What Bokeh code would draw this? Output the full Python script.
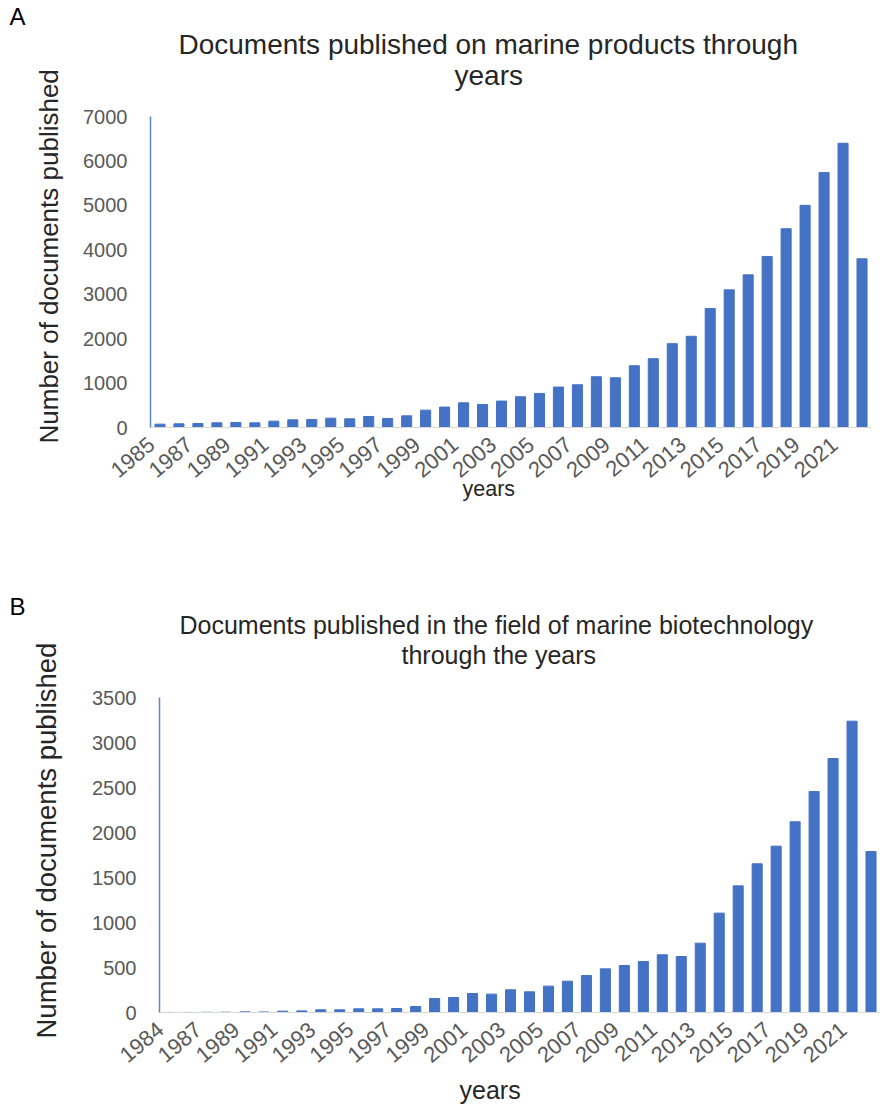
import math
from bokeh.plotting import figure
from bokeh.models import Range1d, FixedTicker, Title, ColumnDataSource
from bokeh.layouts import column
from bokeh.embed import file_html
from bokeh.resources import INLINE

# ---------------- data ----------------
years_a = ["1985", "1986", "1987", "1988", "1989", "1990", "1991", "1992", "1993", "1994",
           "1995", "1996", "1997", "1998", "1999", "2000", "2001", "2002", "2003", "2004",
           "2005", "2006", "2007", "2008", "2009", "2010", "2011", "2012", "2013", "2014",
           "2015", "2016", "2017", "2018", "2019", "2020", "2021", "2022"]
docs_a = [75, 83, 90, 105, 113, 105, 143, 173, 180, 210,
          195, 248, 203, 263, 391, 459, 556, 519, 595, 692,
          767, 910, 962, 1143, 1120, 1391, 1549, 1887, 2053, 2677,
          3098, 3436, 3850, 4474, 5000, 5737, 6398, 3797]

years_b = ["1984", "1986", "1987", "1988", "1989", "1990", "1991", "1992", "1993", "1994",
           "1995", "1996", "1997", "1998", "1999", "2000", "2001", "2002", "2003", "2004",
           "2005", "2006", "2007", "2008", "2009", "2010", "2011", "2012", "2013", "2014",
           "2015", "2016", "2017", "2018", "2019", "2020", "2021", "2022"]
docs_b = [1, 1, 2, 3, 7, 6, 15, 18, 30, 30,
          41, 41, 44, 67, 156, 167, 211, 204, 252, 230,
          293, 348, 411, 485, 522, 567, 641, 622, 770, 1104,
          1407, 1652, 1848, 2119, 2456, 2822, 3237, 1789]

yticks_a = [0, 1000, 2000, 3000, 4000, 5000, 6000, 7000]
yticks_b = [0, 500, 1000, 1500, 2000, 2500, 3000, 3500]

title_a = ["Documents published on marine products through", "years"]
title_b = ["Documents published in the field of marine biotechnology", "through the years"]
ylabel = "Number of documents published"
xlabel = "years"

FONT = "Liberation Sans"
BAR = "#4472C4"


def make_chart(years, docs, yticks, titles, letter, g):
    n = len(years)
    xs = list(range(n))
    ymax = yticks[-1]
    src = ColumnDataSource(dict(x=xs, top=docs, year=years))
    p = figure(width=g["w"], height=g["h"],
               min_border_left=g["bl"], min_border_right=g["br"],
               min_border_top=g["bt"], min_border_bottom=g["bb"],
               x_range=Range1d(-0.5, n - 0.5), y_range=Range1d(0, ymax),
               output_backend="svg", toolbar_location=None, tools="")
    p.margin = (0, 0, 0, g["ml"])
    p.outline_line_color = None
    p.xgrid.visible = False
    p.ygrid.visible = False
    p.background_fill_color = "white"
    p.border_fill_color = "white"

    p.vbar(x="x", top="top", width=0.53, source=src, fill_color=BAR, line_color=BAR)

    ya = p.yaxis[0]
    ya.ticker = FixedTicker(ticks=yticks)
    ya.major_tick_line_color = None
    ya.minor_tick_line_color = None
    ya.axis_line_color = "#5B8AD0"
    ya.axis_line_width = 1.5
    ya.major_label_text_font = FONT
    ya.major_label_text_font_size = g["tick_fs"]
    ya.major_label_text_color = "#595959"
    ya.major_label_standoff = 17

    xa = p.xaxis[0]
    shown = xs[::2]
    shift = 0.45  # Excel-style: rotated label ends just left of its bar
    xa.ticker = FixedTicker(ticks=[i - shift for i in shown])
    xa.major_label_overrides = {i - shift: years[i] for i in shown}
    xa.major_label_orientation = 0.7
    xa.major_tick_line_color = None
    xa.minor_tick_line_color = None
    xa.axis_line_color = "#D9D9D9"
    xa.axis_line_width = 1
    xa.major_label_text_font = FONT
    xa.major_label_text_font_size = g["xtick_fs"]
    xa.major_label_text_color = "#595959"
    xa.major_label_standoff = 8

    def ttl(text, loc, fs, offset=0, standoff=0, color="#262626"):
        t = Title(text=text, align="left", offset=offset, standoff=standoff,
                  text_font=FONT, text_font_size=fs, text_font_style="normal",
                  text_color=color)
        p.add_layout(t, loc)

    # above: closest to the frame first (a blank spacer lifts the title block)
    ttl(" ", "above", "1px", offset=0, standoff=g["sp"])
    ttl(titles[1], "above", g["title_fs"], offset=g["t2_off"], standoff=0)
    ttl(titles[0], "above", g["title_fs"], offset=g["t1_off"], standoff=g["t1_so"])
    ttl(letter, "above", "24px", offset=g["letter_off"], standoff=g["letter_so"],
        color="#000000")
    # left / below axis titles
    ttl(ylabel, "left", g["yl_fs"], offset=g["yl_off"], standoff=g["yl_so"])
    ttl(xlabel, "below", g["xl_fs"], offset=g["xl_off"], standoff=g["xl_so"])
    return p


geom_a = dict(w=880, h=556, ml=-9, bl=158, br=0, bt=116, bb=129,
              tick_fs="20px", xtick_fs="22px",
              title_fs="28px", sp=23, t1_off=28, t1_so=-5, t2_off=304,
              letter_off=-141, letter_so=0,
              yl_fs="26px", yl_off=-16, yl_so=34,
              xl_fs="21.5px", xl_off=312, xl_so=-27)
geom_b = dict(w=880, h=557, ml=0, bl=158, br=0, bt=141, bb=101,
              tick_fs="20px", xtick_fs="22px",
              title_fs="25px", sp=26, t1_off=20, t1_so=0, t2_off=242,
              letter_off=-150, letter_so=-23,
              yl_fs="27.5px", yl_off=-26, yl_so=56,
              xl_fs="25px", xl_off=300, xl_so=3)

pa = make_chart(years_a, docs_a, yticks_a, title_a, "A", geom_a)
pb = make_chart(years_b, docs_b, yticks_b, title_b, "B", geom_b)

layout = column(pa, pb, spacing=0)
open("out.html", "w").write(file_html(layout, INLINE))
